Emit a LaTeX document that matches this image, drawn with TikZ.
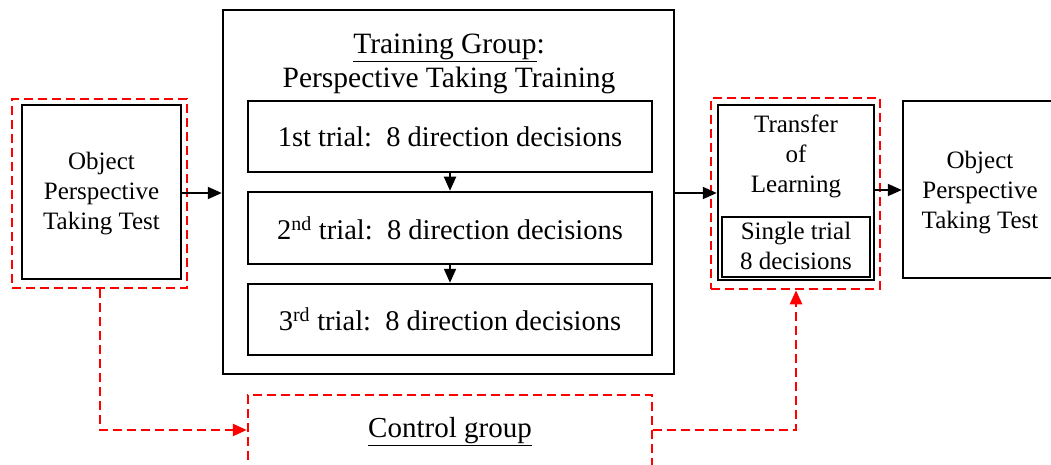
\documentclass[tikz,border=0pt]{standalone}
\usepackage{fontspec}
\setmainfont{Liberation Serif}
\newfontfamily\timesfont{Liberation Serif}
\usetikzlibrary{arrows.meta,positioning}
\begin{document}
\begin{tikzpicture}[x=1pt,y=-1pt,
  box/.style={draw=black,line width=2.5pt,inner sep=0pt,fill=none},
  thinbox/.style={draw=black,line width=1.5pt,inner sep=0pt},
  redbox/.style={draw=red,line width=2.5pt,dash pattern=on 9pt off 5pt,inner sep=0pt},
  txt/.style={align=center,font=\timesfont\fontsize{25}{30}\selectfont,inner sep=0pt},
  ttxt/.style={align=center,font=\timesfont\fontsize{28.5}{34}\selectfont,inner sep=0pt},
  titletxt/.style={align=center,font=\timesfont\fontsize{29.5}{34}\selectfont,inner sep=0pt},
  arr/.style={line width=2pt,-{Triangle[length=14pt,width=12pt]}},
  redarr/.style={draw=red,line width=2.5pt,dash pattern=on 9pt off 5pt,-{Triangle[length=14pt,width=12pt]}}
]
\useasboundingbox (0,0) rectangle (1051,465);
% left
\node[redbox,minimum width=175pt,minimum height=189pt] (ld) at (99.5,193.5) {};
\node[box,minimum width=159pt,minimum height=174pt] (lb) at (101.5,192) {};
\node[txt] (lt) at (101.5,194) {Object\\Perspective\\Taking Test};
% training
\node[box,minimum width=451pt,minimum height=364pt] (tg) at (448.5,192) {};
\node[titletxt] (tt) at (449,64) {\underline{Training Group}:\\Perspective Taking Training};
\node[box,minimum width=404pt,minimum height=71pt] (t1) at (450,136.5) {};
\node[ttxt] at (t1.center) {1st trial:\ \ 8 direction decisions};
\node[box,minimum width=404pt,minimum height=72pt] (t2) at (450,228) {};
\node[ttxt] at (t2.center) {2\textsuperscript{nd} trial:\ \ 8 direction decisions};
\node[box,minimum width=404pt,minimum height=71pt] (t3) at (450,319.5) {};
\node[ttxt] at (t3.center) {3\textsuperscript{rd} trial:\ \ 8 direction decisions};
% control
\node[redbox,minimum width=404pt,minimum height=74pt] (cg) at (450,432) {};
\node[titletxt,font=\timesfont\fontsize{29}{34}\selectfont] (ct) at (450,432) {\underline{Control group}};
% transfer
\node[redbox,minimum width=169pt,minimum height=191pt] (td) at (795.5,193.5) {};
\node[box,minimum width=156pt,minimum height=175pt] (tb) at (796,192.5) {};
\node[txt] (tl) at (796,156) {Transfer\\of\\Learning};
\node[thinbox,minimum width=148pt,minimum height=60pt] (sb) at (796,247) {};
\node[txt] (st) at (796,246) {Single trial\\8 decisions};
% right
\node[box,minimum width=154pt,minimum height=177pt] (rb) at (980,189.5) {};
\node[txt] (rt) at (980,193) {Object\\Perspective\\Taking Test};
% arrows
\draw[arr] (lb.east |- 0,193) -- (tg.west |- 0,193);
\draw[arr] (t1.south) -- (t2.north);
\draw[arr] (t2.south) -- (t3.north);
\draw[arr] (tg.east |- 0,193) -- (tb.west |- 0,193);
\draw[arr] (tb.east |- 0,190) -- (rb.west |- 0,190);
\coordinate (c1) at (100,430);
\coordinate (c2) at (796,430);
\draw[redarr] (ld.south -| c1) -- (c1) -- (cg.west |- c1);
\draw[redarr] (cg.east |- c2) -- (c2) -- (td.south -| c2);
\end{tikzpicture}
\end{document}
